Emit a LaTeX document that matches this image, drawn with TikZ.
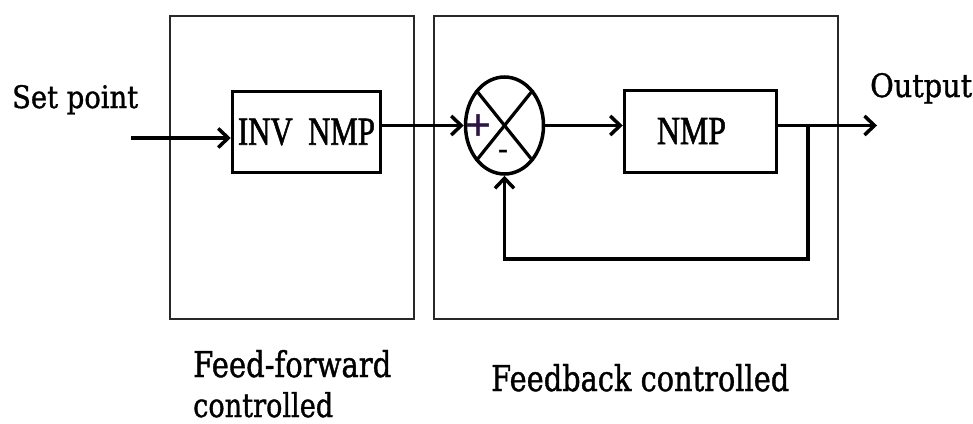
\documentclass[tikz,border=0pt]{standalone}
\usepackage{fontspec}
\setmainfont[FakeBold=1.2]{DejaVu Serif}
\newfontfamily\boxfont[FakeBold=1.6]{Liberation Serif}
\newfontfamily\signfont[FakeBold=1.5]{DejaVu Sans}
\usetikzlibrary{shapes.geometric,arrows.meta,calc}
\definecolor{framecol}{RGB}{40,40,40}
\definecolor{signcol}{RGB}{45,20,70}
\begin{document}
\begin{tikzpicture}[x=1pt,y=-1pt,
  outerbox/.style={draw=framecol, line width=1.2pt, inner sep=0, rectangle},
  blk/.style={draw, line width=3.5pt, inner sep=0, rectangle},
  arr/.style={line width=3.5pt, -{Straight Barb[length=10pt,width=19pt]}},
  line/.style={line width=3.2pt},
  lbl/.style={anchor=base west, inner sep=0}]
\useasboundingbox (0,0) rectangle (973,423);
% outer frames
\node[outerbox, minimum width=244pt, minimum height=303pt] (ffbox) at (292,167.5) {};
\node[outerbox, minimum width=404pt, minimum height=303pt] (fbbox) at (636,167.5) {};
% blocks
\node[blk, minimum width=148pt, minimum height=81pt] (inv) at (306.5,132)
  {\boxfont\resizebox{137pt}{26pt}{INV\ \ NMP}};
\node[blk, minimum width=152pt, minimum height=82pt] (nmp) at (700.5,131.5) {};
\node[inner sep=0] (nmptext) at (691.5,131) {\boxfont\resizebox{69pt}{26pt}{NMP}};
% summing junction
\node[draw, ellipse, line width=3.5pt, minimum width=78pt, minimum height=97pt, inner sep=0] (sum) at (504.5,125.5) {};
\draw[line] (476,90) -- (533,161);
\draw[line] (533,90) -- (476,161);
\node[inner sep=0, text=signcol] (plus) at (478,125) {\signfont\fontsize{34}{34}\selectfont +};
\node[inner sep=0] (minus) at (503,150) {\signfont\fontsize{28}{28}\selectfont\vphantom{+}-};
% labels
\node[lbl] (setpoint) at (12,108) {\resizebox{126pt}{23pt}{Set point}};
\node[lbl] (outlbl) at (870,97) {\resizebox{102pt}{24pt}{Output}};
\node[lbl] (fflbl) at (193,377) {\resizebox{198pt}{27pt}{Feed-forward}};
\node[lbl] (fflbl2) at (193,417) {\resizebox{140pt}{25pt}{controlled}};
\node[lbl] (fblbl) at (491,391) {\resizebox{298pt}{27pt}{Feedback controlled}};
% connectors
\coordinate (spstart) at (131,138);
\coordinate (outend) at (877,125.5);
\coordinate (br) at (808,125.5);
\coordinate (fb) at (808,259);
\draw[arr] (spstart) -- (spstart -| inv.west);
\draw[arr] (inv.east |- sum.west) -- (sum.west);
\draw[arr] (sum.east) -- (sum.east -| nmp.west);
\draw[arr] (sum.east -| nmp.east) -- (outend);
\draw[arr] (br) -- (fb) -| (sum.south);
\end{tikzpicture}
\end{document}
